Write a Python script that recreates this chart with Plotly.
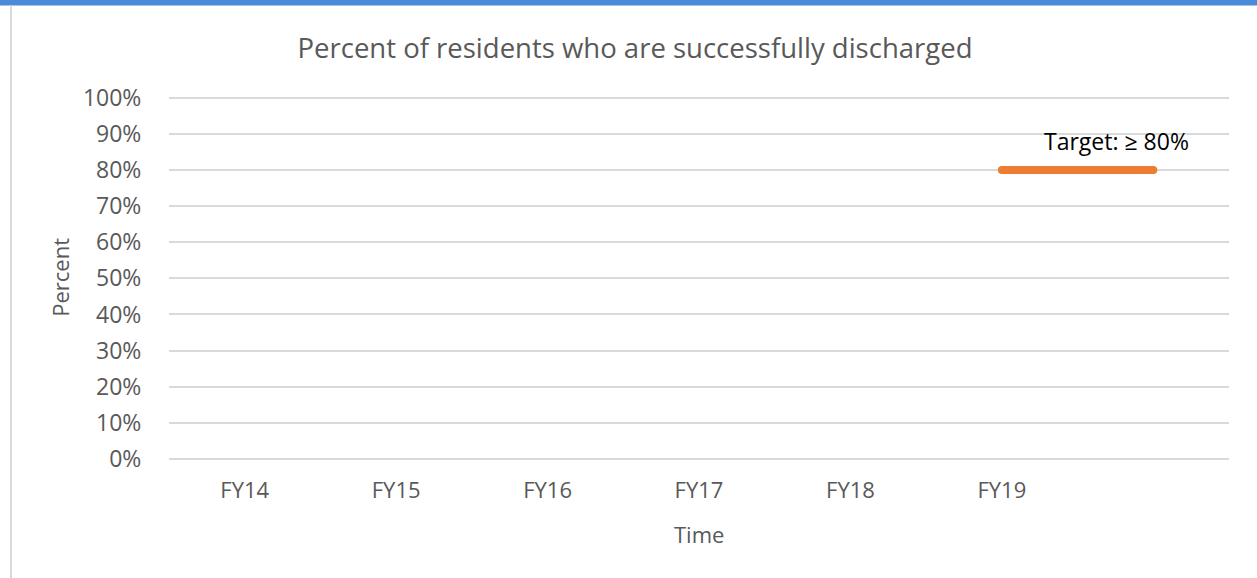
import plotly.graph_objects as go

# Chart data
categories = ["FY14", "FY15", "FY16", "FY17", "FY18", "FY19", ""]
target_values = [None, None, None, None, None, 80, 80]
target_label = "Target: \u2265 80%"
y_ticks = list(range(0, 101, 10))
y_tick_labels = [f"{v}%" for v in y_ticks]

W, H = 1257, 578
Y_MAX = 101  # small headroom so the 100% gridline is kept
M_L, M_R, M_B = 169, 28, 119
M_T = H - M_B - 361 * Y_MAX / 100
PW, PH = W - M_L - M_R, H - M_T - M_B

FONT = "Open Sans"
GREY_TXT = "#595959"
GRID = "#d9d9d9"
ORANGE = "#ED7D31"


def px_x(px):
    return (px - M_L) / PW


def px_y(py):
    return (H - M_B - py) / PH


xs = list(range(len(categories)))

fig = go.Figure()
fig.add_trace(go.Scatter(
    x=xs, y=target_values,
    mode="lines+markers",
    line=dict(color=ORANGE, width=8),
    marker=dict(color=ORANGE, size=8, line=dict(width=0)),
    connectgaps=False,
    hoverinfo="skip",
    showlegend=False,
))

fig.add_annotation(
    x=5.76, y=88, xref="x", yref="y",
    text=target_label, showarrow=False,
    font=dict(family=FONT, size=23, color="#000000"),
    xanchor="center", yanchor="middle",
)

# Axis titles
fig.add_annotation(
    x=px_x(60), y=px_y(278), xref="paper", yref="paper",
    text="Percent", textangle=-90, showarrow=False,
    font=dict(family=FONT, size=22, color=GREY_TXT),
    xanchor="center", yanchor="middle",
)
fig.add_annotation(
    x=0.5, y=px_y(534), xref="paper", yref="paper",
    text="Time", showarrow=False,
    font=dict(family=FONT, size=22, color=GREY_TXT),
    xanchor="center", yanchor="middle",
)

# Frame decorations: blue top band and grey left border
fig.add_shape(type="rect", xref="paper", yref="paper",
              x0=px_x(0), x1=px_x(W), y0=px_y(6), y1=px_y(0),
              fillcolor="#4a8ad8", line=dict(width=0), layer="below")
fig.add_shape(type="line", xref="paper", yref="paper",
              x0=px_x(11), x1=px_x(11), y0=px_y(6), y1=px_y(H),
              line=dict(color=GRID, width=2), layer="below")

fig.update_layout(
    width=W, height=H,
    margin=dict(l=M_L, r=M_R, t=M_T, b=M_B),
    paper_bgcolor="white", plot_bgcolor="white",
    title=dict(
        text="Percent of residents who are successfully discharged",
        x=635 / W, xref="container", xanchor="center",
        y=1 - 48 / H, yref="container", yanchor="middle",
        font=dict(family=FONT, size=27.5, color=GREY_TXT),
    ),
    xaxis=dict(
        range=[-0.5, len(categories) - 0.5],
        tickvals=xs[:6], ticktext=categories[:6],
        showgrid=False, zeroline=False, showline=False,
        ticks="outside", ticklen=12, tickcolor="rgba(0,0,0,0)",
        tickfont=dict(family=FONT, size=22, color=GREY_TXT),
        fixedrange=True,
    ),
    yaxis=dict(
        range=[0, Y_MAX],
        tickvals=y_ticks, ticktext=y_tick_labels,
        showgrid=True, gridcolor=GRID, gridwidth=2,
        zeroline=True, zerolinecolor=GRID, zerolinewidth=2,
        showline=False,
        ticks="outside", ticklen=22, tickcolor="rgba(0,0,0,0)",
        tickfont=dict(family=FONT, size=23, color=GREY_TXT),
        fixedrange=True,
    ),
)

fig.write_html("out.html", config={"displayModeBar": False})
